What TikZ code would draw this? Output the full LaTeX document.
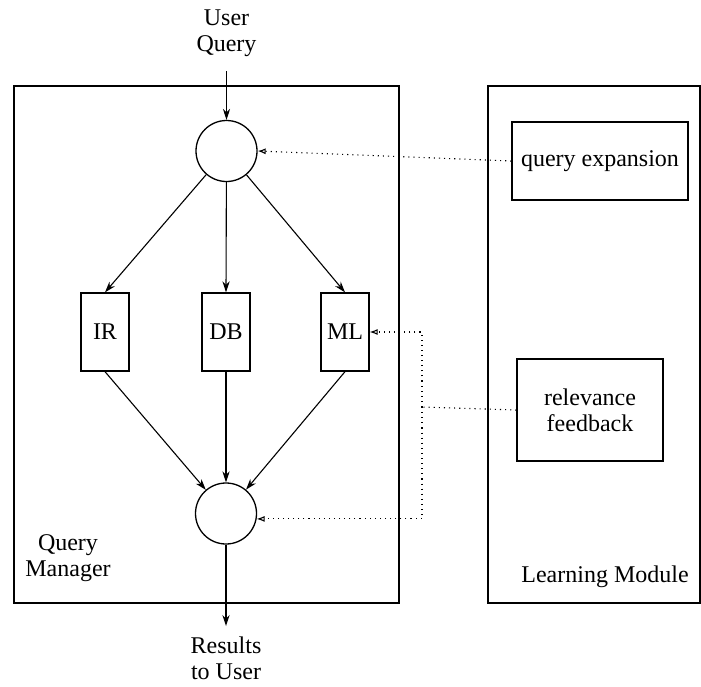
\documentclass[tikz,border=0pt]{standalone}
\usepackage{fontspec}
\setmainfont{Liberation Serif}
\usetikzlibrary{arrows.meta}
\begin{document}
\begin{tikzpicture}[x=0.5pt,y=-0.5pt,
  every node/.style={font=\fontsize{12}{13}\selectfont},
  frame/.style={draw, line width=0.65pt, inner sep=0pt},
  proc/.style={draw, line width=0.65pt, inner sep=0pt, align=center},
  junc/.style={draw, circle, line width=0.65pt, minimum size=30.5pt, inner sep=0pt},
  flow/.style={line width=0.55pt, -{Stealth[length=5.5pt,width=3.6pt]}},
  fb/.style={line width=0.55pt, dotted, -{Latex[open,length=4pt,width=3pt]}},
  fbline/.style={line width=0.55pt, dotted},
  lbl/.style={align=center, inner sep=0pt}
]
\useasboundingbox (0,0) rectangle (701,686);
% containers
\node[frame, minimum width=192.5pt, minimum height=258.5pt] (qm) at (206.5,344.5) {};
\node[frame, minimum width=106pt, minimum height=258.5pt] (lm) at (594,344.5) {};
% labels
\node[lbl] (uq) at (226.5,33.5) {User\\Query};
\node[lbl, anchor=north] (res) at (226,636) {Results\\to User};
\node[lbl] (qml) at (68,558) {Query\\Manager};
\node[lbl] (lml) at (605,577) {Learning Module};
% junctions
\node[junc] (tc) at (226.5,151) {};
\node[junc] (bc) at (226,513.5) {};
% processors
\node[proc, minimum width=24pt, minimum height=39pt] (ir) at (105,332) {IR};
\node[proc, minimum width=24pt, minimum height=39pt] (db) at (226,332) {DB};
\node[proc, minimum width=24pt, minimum height=39pt] (ml) at (345,332) {ML};
% learning components
\node[proc, minimum width=88pt, minimum height=39pt] (qe) at (600,161) {query expansion};
\node[proc, minimum width=73pt, minimum height=51pt] (rf) at (590,410) {relevance\\feedback};
\coordinate (j) at (422,407);
% flows
\draw[flow, shorten <=7pt] (uq.south) -- (tc.north);
\draw[flow] (tc) -- (ir.north);
\draw[flow] (tc) -- (db.north);
\draw[flow] (tc) -- (ml.north);
\draw[flow] (ir.south) -- (bc);
\draw[flow] (db.south) -- (bc);
\draw[flow] (ml.south) -- (bc);
\draw[flow, shorten >=5pt] (bc.south) -- (res.north);
% feedback
\draw[fb] (qe.west) -- (tc.east);
\draw[fbline] (rf.west) -- (j);
\draw[fb] (j) |- (ml.east);
\draw[fb] (j) |- (bc.-10);
\end{tikzpicture}
\end{document}
